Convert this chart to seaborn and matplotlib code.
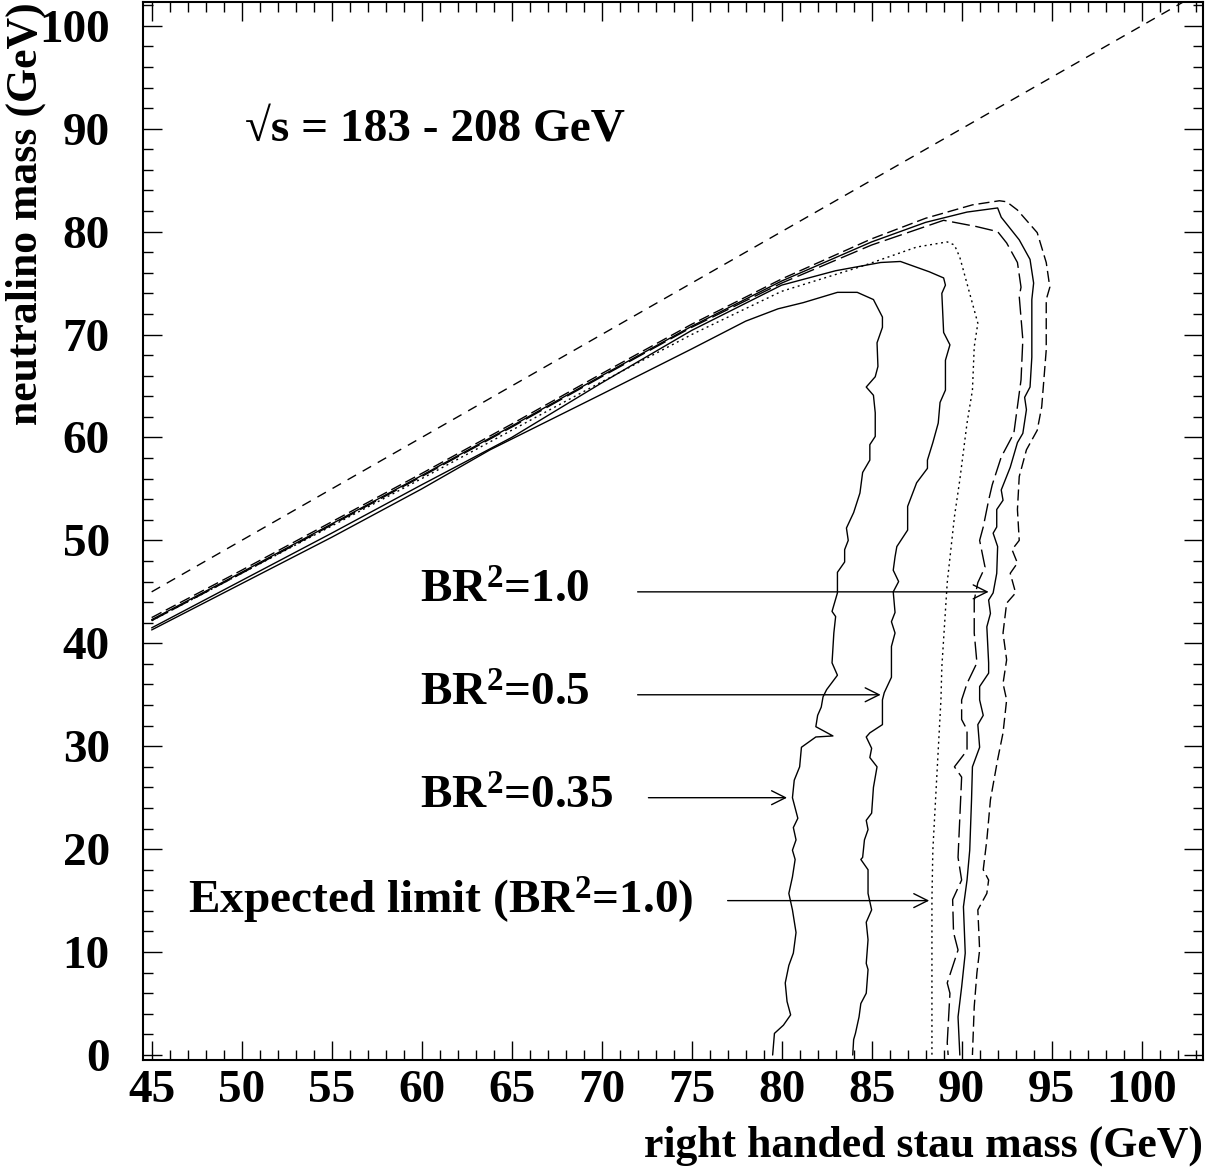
import numpy as np
import pandas as pd
import matplotlib
matplotlib.use("Agg")
import matplotlib.pyplot as plt
import seaborn as sns
from matplotlib.ticker import MultipleLocator

# =========================
# DATA
# =========================

# kinematic limit m(neutralino) = m(stau)
diag_x = [45, 105]
diag_y = [45, 105]

# BR^2 = 0.35 observed limit (solid)
br035_x = [45, 50, 55, 60, 63.8, 70, 75, 78.0, 79.8, 81.2, 83.1, 84.2, 85.1, 85.6, 85.6, 85.3,
           85.35, 85.2, 84.7, 85.1, 85.2, 85.2, 84.9, 84.9, 84.5, 84.35, 84.0, 83.6, 83.7,
           83.5, 83.5, 83.1, 83.1, 82.8, 83.0, 82.9, 82.8, 83.1, 82.5, 82.3, 82.2, 82.0,
           81.9, 82.85, 81.9, 81.1, 81.0, 80.7, 80.6, 80.9, 80.65, 80.8, 80.6, 80.75, 80.6,
           80.4, 80.6, 80.8, 80.65, 80.4, 80.2, 80.3, 80.5, 80.1, 79.6, 79.5]
br035_y = [41.3, 45.8, 50.3, 55.0, 58.8, 64.2, 68.6, 71.3, 72.5, 73.1, 74.1, 74.1, 73.4, 71.7, 70.7, 69.2,
           66.9, 65.9, 64.9, 64.1, 62.4, 60.1, 59.3, 57.8, 56.6, 54.6, 52.7, 51.2, 50.0,
           49.1, 47.9, 46.9, 44.9, 43.1, 42.6, 41.0, 38.1, 36.9, 35.5, 34.8, 33.8, 33.0,
           31.9, 31.0, 30.9, 29.9, 28.0, 26.7, 25.0, 23.0, 22.1, 20.9, 19.9, 19.0, 17.3,
           15.7, 14.1, 11.9, 9.9, 8.7, 7.0, 5.2, 3.9, 2.9, 2.1, 0.0]

# BR^2 = 0.5 observed limit (solid)
br05_x = [45, 50, 55, 60, 65, 70, 75, 80, 83, 85.5, 86.6, 88.2, 89.0, 89.1, 88.9, 89.0, 89.35,
          89.1, 89.1, 88.8, 88.7, 88.4, 88.1, 88.1, 87.5, 87.0, 87.0, 86.4, 86.3, 86.2, 86.5,
          86.2, 86.3, 86.1, 86.3, 86.1, 86.1, 85.7, 85.6, 85.6, 84.9, 84.7, 85.0, 84.9, 85.3,
          85.1, 85.0, 84.7, 84.8, 84.6, 84.5, 84.4, 84.8, 84.8, 85.0, 84.7, 84.8, 84.7, 84.8,
          84.7, 84.4, 84.3, 84.1, 84.0, 83.95]
br05_y = [41.5, 46.1, 50.7, 55.4, 60.0, 65.3, 70.4, 74.8, 76.2, 77.0, 77.1, 76.1, 75.5, 74.8, 74.0, 70.2, 69.0,
          67.5, 64.6, 63.4, 61.4, 59.5, 57.8, 57.0, 55.6, 53.3, 51.0, 49.4, 48.4, 47.1, 46.0,
          45.0, 43.0, 42.1, 41.0, 39.7, 36.7, 35.2, 34.5, 32.1, 31.3, 30.9, 29.8, 28.9, 28.0,
          26.0, 23.5, 22.8, 21.9, 20.9, 19.2, 19.0, 18.0, 15.7, 14.1, 12.9, 11.2, 8.9, 8.3,
          6.0, 5.0, 3.7, 2.1, 1.5, 0.0]

# BR^2 = 1.0 observed limit (solid)
br10_x = [45, 50, 55, 60, 65, 70, 75, 80, 85, 88, 90.3, 92.0, 92.2, 93.2, 93.8, 94.0, 93.9,
          93.9, 93.8, 93.5, 93.6, 93.4, 93.1, 92.7, 92.2, 92.3, 91.95, 91.95, 91.75, 92.0,
          91.95, 91.75, 91.5, 91.6, 91.4, 91.5, 91.5, 91.0, 91.0, 91.2, 90.9, 91.0, 90.6,
          90.55, 90.45, 90.3, 90.1, 90.2, 90.0, 89.8, 89.9]
br10_y = [42.3, 46.9, 51.6, 56.3, 61.1, 66.0, 70.8, 75.2, 79.0, 80.9, 81.9, 82.3, 81.4, 79.2, 77.3, 75.0, 73.4,
          67.8, 64.9, 63.9, 62.7, 60.4, 59.5, 57.1, 54.9, 53.9, 53.0, 51.3, 50.7, 49.4,
          46.8, 44.9, 44.2, 42.9, 41.6, 38.1, 37.1, 35.8, 34.5, 33.0, 32.1, 29.9, 28.0,
          24.8, 19.9, 17.0, 14.4, 9.9, 6.6, 3.7, 0.0]

# BR^2 = 1.0 upper band (short dashes)
band_hi_x = [45, 50, 55, 60, 65, 70, 75, 80, 85, 88, 90.6, 92.1, 92.5, 93.1, 94.2, 94.7, 94.9,
             94.7, 94.7, 94.45, 94.2, 93.6, 93.2, 93.1, 93.2, 92.8, 93.1, 92.7, 93.0, 92.5,
             92.3, 92.5, 92.3, 92.5, 92.3, 92.0, 91.6, 91.4, 91.2, 91.5, 91.4, 90.9, 91.0,
             90.85, 90.7, 90.6]
band_hi_y = [42.5, 47.1, 51.8, 56.5, 61.3, 66.2, 71.0, 75.4, 79.3, 81.3, 82.6, 83.0, 82.9, 82.1, 79.9, 77.0, 74.6,
             73.4, 68.5, 63.0, 60.7, 58.8, 56.2, 53.0, 50.0, 49.1, 47.8, 46.8, 44.9, 43.9,
             41.0, 38.4, 36.1, 34.5, 31.3, 28.7, 24.8, 20.9, 18.0, 17.0, 15.7, 14.1, 10.2,
             8.0, 4.7, 0.0]

# BR^2 = 1.0 lower band (long dashes)
band_lo_x = [45, 50, 55, 60, 65, 70, 75, 80, 85, 89.0, 90.8, 92.0, 92.5, 93.1, 93.3, 93.2,
             93.4, 93.3, 92.9, 92.2, 91.7, 91.5, 91.2, 91.0, 91.3, 90.9, 90.7, 90.7, 90.85,
             90.3, 90.0, 90.0, 90.3, 90.3, 89.6, 90.0, 89.9, 89.8, 90.0, 89.5, 89.55, 89.8,
             89.5, 89.2, 89.35, 89.2, 89.25]
band_lo_y = [42.2, 46.8, 51.5, 56.2, 61.0, 65.9, 70.7, 75.0, 78.7, 81.1, 80.5, 80.0, 78.9, 77.0, 74.6, 73.7,
             69.5, 65.6, 60.4, 58.1, 55.4, 53.9, 51.3, 50.0, 47.4, 45.9, 44.2, 41.0, 38.1,
             36.1, 34.5, 32.6, 31.6, 29.6, 28.0, 27.0, 23.1, 19.2, 17.0, 15.1, 11.9, 10.2,
             8.6, 7.0, 6.0, 1.2, 0.0]

# expected limit, BR^2 = 1.0 (dotted)
expected_x = [45, 50, 55, 60, 65, 70, 75, 80, 84.4, 87.5, 89.2, 89.6, 89.9, 90.9, 90.7, 90.6,
              90.3, 89.9, 89.6, 89.2, 88.9, 88.85, 88.6, 88.4, 88.35, 88.35, 88.35]
expected_y = [42.2, 46.8, 51.4, 56.0, 60.7, 65.4, 70.0, 74.2, 76.6, 78.5, 79.0, 78.7, 77.5, 71.1, 68.8, 64.6,
              61.4, 55.9, 52.3, 45.9, 37.7, 34.5, 26.4, 19.9, 15.1, 8.6, 0.0]

# labels with arrows: text x, y, arrow start x, arrow end x
labels = ["BR$^2$=1.0", "BR$^2$=0.5", "BR$^2$=0.35", "Expected limit (BR$^2$=1.0)"]
label_x = [59.9, 59.9, 59.9, 47.0]
label_y = [45, 35, 25, 15]
arrow_from = [72.0, 72.0, 72.6, 77.0]
arrow_to = [91.5, 85.5, 80.3, 88.2]

energy_text = "\u221as = 183 - 208 GeV"

# =========================
# STYLE
# =========================

sns.set_theme(style="ticks")
plt.rcParams["font.family"] = ["Liberation Serif", "DejaVu Serif"]
plt.rcParams["font.weight"] = "bold"
plt.rcParams["mathtext.default"] = "regular"
plt.rcParams["lines.scale_dashes"] = False
for key in ["text.color", "axes.labelcolor", "xtick.color", "ytick.color",
            "xtick.labelcolor", "ytick.labelcolor", "axes.edgecolor"]:
    plt.rcParams[key] = "black"

fig = plt.figure(figsize=(12.11, 11.69), dpi=100)
ax = fig.add_axes([0.1181, 0.0932, 0.8753, 0.905])

LW = 1.0

def curve(xs, ys, ls):
    df = pd.DataFrame({"x": xs, "y": ys})
    sns.lineplot(data=df, x="x", y="y", sort=False, estimator=None,
                 color="black", linewidth=LW, linestyle=ls, ax=ax)

curve(diag_x, diag_y, (0, (7, 5.5)))
curve(br035_x, br035_y, "-")
curve(br05_x, br05_y, "-")
curve(br10_x, br10_y, "-")
curve(band_hi_x, band_hi_y, (0, (8, 3.5)))
curve(band_lo_x, band_lo_y, (0, (13, 4)))
curve(expected_x, expected_y, (0, (1.4, 2.6)))

for txt, tx, ty, a0, a1 in zip(labels, label_x, label_y, arrow_from, arrow_to):
    ax.text(tx, ty, txt, fontsize=34, fontweight="bold", va="center", ha="left", color="black")
    ax.annotate("", xy=(a1, ty), xytext=(a0, ty),
                arrowprops=dict(arrowstyle="->", color="black", lw=1.0,
                                mutation_scale=25, shrinkA=0, shrinkB=0))

ax.text(50.2, 89.9, energy_text, fontsize=34, fontweight="bold", va="center", ha="left",
        color="black")

ax.set_xlim(44.52, 103.41)
ax.set_ylim(-0.49, 102.3)

ax.xaxis.set_major_locator(MultipleLocator(5))
ax.xaxis.set_minor_locator(MultipleLocator(1))
ax.yaxis.set_major_locator(MultipleLocator(10))
ax.yaxis.set_minor_locator(MultipleLocator(2))

ax.tick_params(which="both", direction="in", top=True, right=True, width=1.0,
               color="black", labelcolor="black")
ax.tick_params(which="major", length=14)
ax.tick_params(which="minor", length=7)
ax.tick_params(axis="x", which="major", labelsize=34, pad=7)
ax.tick_params(axis="y", which="major", labelsize=34, pad=24)
for lab in ax.get_xticklabels() + ax.get_yticklabels():
    lab.set_fontweight("bold")

for sp in ax.spines.values():
    sp.set_linewidth(1.5)
    sp.set_color("black")

ax.set_xlabel("right handed stau mass (GeV)", fontsize=31.5, fontweight="bold", color="black")
ax.set_ylabel("neutralino mass (GeV)", fontsize=31.5, fontweight="bold", color="black")
ax.xaxis.set_label_coords(1.0, -0.062)
ax.xaxis.label.set_horizontalalignment("right")
ax.yaxis.set_label_coords(-0.092, 1.0)
ax.yaxis.label.set_horizontalalignment("right")

fig.savefig("out.png", dpi=100)
